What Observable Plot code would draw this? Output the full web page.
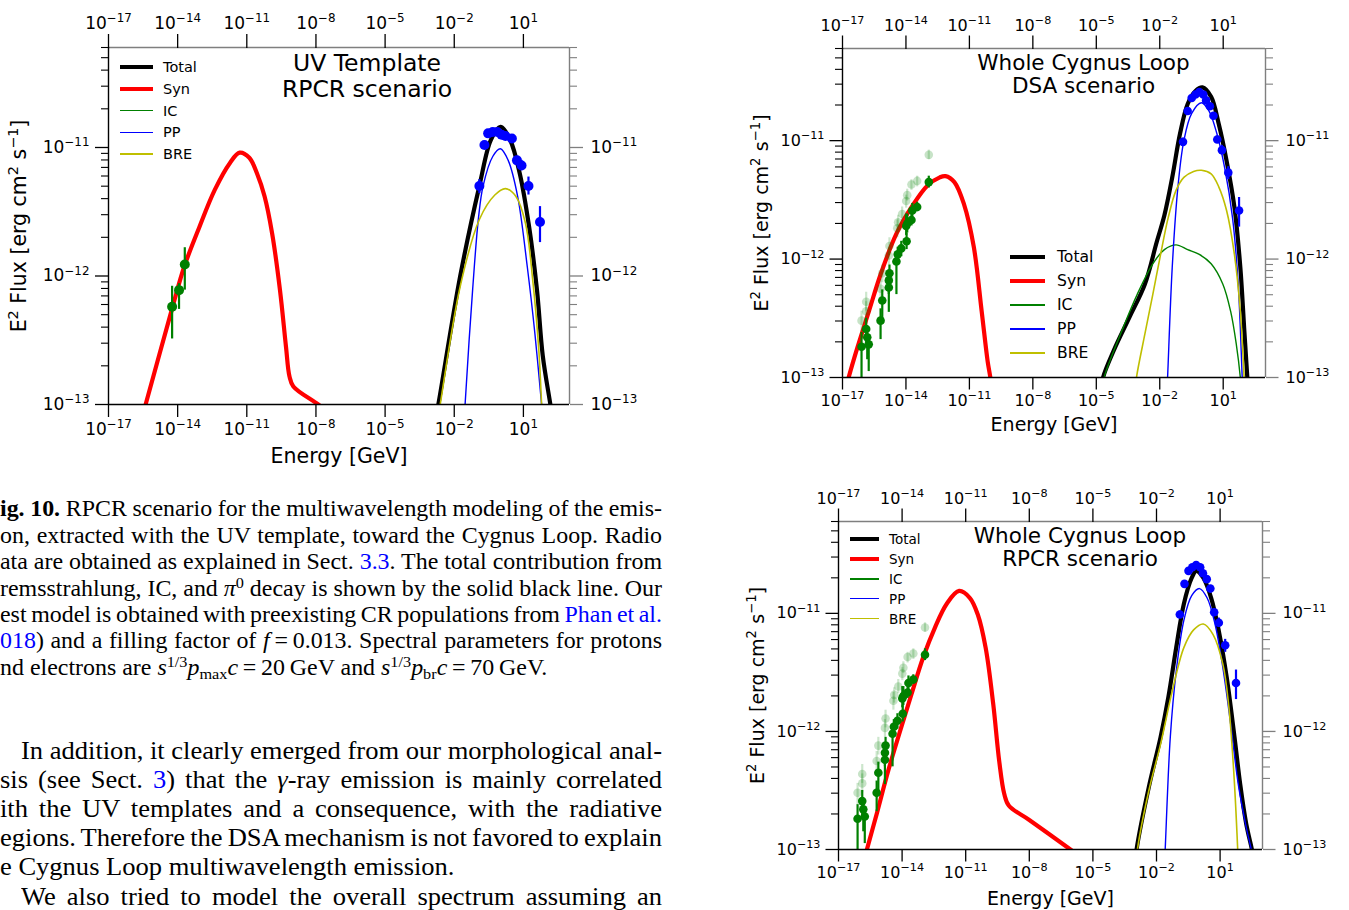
<!DOCTYPE html>
<html><head><meta charset="utf-8">
<script src="https://cdn.jsdelivr.net/npm/d3@7"></script>
<script src="https://cdn.jsdelivr.net/npm/@observablehq/plot@0.6"></script>
<style>
html,body{margin:0;padding:0;background:#fff;}
#page{position:relative;width:1349px;height:910px;overflow:hidden;background:#fff;}
.panel{position:absolute;}
.leg{position:absolute;font-family:"DejaVu Sans";color:#000;white-space:nowrap;}
.tl{position:absolute;font-family:"Liberation Serif","Times New Roman",serif;color:#000;line-height:1;white-space:normal;transform-origin:0 0;}
.just{text-align:justify;text-align-last:justify;word-spacing:-2px;}
.ln{color:#0000ff;}
.tl sup{font-size:0.68em;vertical-align:0.5em;line-height:0;}
.tl sub{font-size:0.68em;vertical-align:-0.28em;line-height:0;}
</style></head>
<body><div id="page"></div>
<script>
// ---------- scales ----------
const X_DOMAIN = [1e-17, 1e3];
const Y_DOMAIN = [1e-13, 6e-11];
const xTickExps = [-17, -14, -11, -8, -5, -2, 1];
const yTickExps = [-13, -12, -11];
const minorMantissas = [2, 3, 4, 5, 6, 7, 8, 9];

// ---------- series names / colours ----------
const seriesNames = ["Total", "Syn", "IC", "PP", "BRE"];
const seriesColors = ["#000000", "#ff0000", "#008000", "#0000ff", "#bfbf00"];
const seriesWidths = [4.2, 4.2, 1.4, 1.4, 1.6];

// ---------- data: [log10 E (GeV), log10 E²Flux] ----------
// Panel 1 : UV Template, RPCR scenario
const uvTotal = [[-2.8,-13.1],[-2.69,-13.0],[-1.74,-12.0],[-0.91,-11.3],[-0.41,-10.94],[0.0,-10.84],[0.42,-10.94],[0.84,-11.2],[1.25,-11.62],[1.59,-12.11],[1.84,-12.62],[2.17,-13.0],[2.25,-13.1]];
const uvSyn = [[-15.55,-13.1],[-15.39,-13.0],[-14.22,-12.24],[-13.72,-11.93],[-13.06,-11.62],[-12.39,-11.33],[-11.73,-11.12],[-11.31,-11.04],[-10.89,-11.08],[-10.56,-11.2],[-10.23,-11.38],[-9.9,-11.67],[-9.56,-12.11],[-9.3,-12.55],[-9.15,-12.78],[-8.98,-12.86],[-7.9,-13.0],[-7.5,-13.06]];
const uvPP = [[-1.58,-13.2],[-1.53,-13.0],[-1.2,-12.1],[-0.95,-11.55],[-0.75,-11.30],[-0.33,-11.07],[0.0,-11.01],[0.34,-11.10],[0.75,-11.38],[1.17,-11.93],[1.5,-12.45],[1.79,-13.0],[1.85,-13.1]];
const uvBRE = [[-2.7,-13.1],[-2.61,-13.0],[-1.74,-12.08],[-0.91,-11.56],[-0.24,-11.37],[0.22,-11.32],[0.67,-11.38],[1.09,-11.59],[1.42,-12.06],[1.67,-12.58],[1.79,-13.0],[1.82,-13.1]];
// data points: [logE, logF, logF low, logF high]
const uvFermi = [[-0.91,-11.30,-11.36,-11.25],[-0.69,-10.98,-11.01,-10.95],[-0.53,-10.89,-10.91,-10.87],[-0.33,-10.88,-10.90,-10.86],[-0.13,-10.88,-10.90,-10.86],[0.05,-10.90,-10.92,-10.88],[0.22,-10.91,-10.93,-10.89],[0.50,-10.93,-10.95,-10.91],[0.72,-11.10,-11.13,-11.07],[0.92,-11.14,-11.18,-11.10],[1.22,-11.30,-11.37,-11.23],[1.72,-11.58,-11.74,-11.46]];
const uvRadio = [[-14.24,-12.24,-12.49,-12.08],[-13.94,-12.11,-12.26,-12.06],[-13.69,-11.91,-12.11,-11.78]];

// Panel 2 : Whole Cygnus Loop, DSA scenario
const dsaTotal = [[-4.75,-13.1],[-4.68,-13.0],[-4.17,-12.77],[-3.43,-12.49],[-2.70,-12.21],[-2.15,-11.86],[-1.78,-11.63],[-1.41,-11.31],[-1.04,-10.94],[-0.68,-10.69],[-0.31,-10.58],[0.02,-10.55],[0.43,-10.63],[0.79,-10.86],[1.16,-11.17],[1.53,-11.56],[1.81,-12.07],[1.99,-12.58],[2.14,-13.0],[2.18,-13.1]];
const dsaSyn = [[-16.9,-13.13],[-16.71,-13.0],[-16.30,-12.75],[-15.75,-12.44],[-15.2,-12.13],[-14.46,-11.79],[-13.73,-11.56],[-12.99,-11.38],[-12.4,-11.31],[-12.13,-11.30],[-11.71,-11.35],[-11.25,-11.54],[-10.79,-11.90],[-10.42,-12.44],[-10.14,-12.86],[-10.01,-13.0],[-9.95,-13.1]];
const dsaIC = [[-4.7,-13.1],[-4.63,-13.0],[-3.80,-12.61],[-3.07,-12.30],[-2.33,-12.04],[-1.78,-11.92],[-1.23,-11.88],[-0.68,-11.92],[-0.13,-11.96],[0.43,-12.04],[0.98,-12.21],[1.35,-12.44],[1.62,-12.72],[1.81,-13.0],[1.85,-13.1]];
const dsaPP = [[-1.66,-13.1],[-1.63,-13.0],[-1.41,-12.07],[-1.14,-11.39],[-0.86,-11.0],[-0.49,-10.77],[-0.03,-10.68],[0.33,-10.75],[0.70,-10.94],[1.07,-11.23],[1.44,-11.65],[1.71,-12.21],[1.90,-13.0],[1.93,-13.1]];
const dsaBRE = [[-3.15,-13.1],[-3.10,-13.0],[-2.70,-12.63],[-2.33,-12.30],[-1.96,-11.96],[-1.60,-11.65],[-1.23,-11.42],[-0.86,-11.31],[-0.40,-11.26],[-0.03,-11.25],[0.43,-11.28],[0.79,-11.39],[1.16,-11.59],[1.53,-11.96],[1.81,-12.44],[1.99,-13.0],[2.02,-13.1]];

// Panel 3 : Whole Cygnus Loop, RPCR scenario
const rpcrTotal = [[-3.0,-13.1],[-2.94,-13.0],[-2.36,-12.47],[-1.81,-12.05],[-1.44,-11.71],[-1.07,-11.29],[-0.71,-10.92],[-0.34,-10.70],[-0.12,-10.64],[0.21,-10.70],[0.58,-10.87],[0.94,-11.15],[1.31,-11.54],[1.68,-12.05],[1.95,-12.45],[2.23,-12.78],[2.50,-13.0],[2.55,-13.05]];
const rpcrSyn = [[-15.8,-13.1],[-15.66,-13.0],[-15.20,-12.70],[-14.65,-12.33],[-14.10,-12.0],[-13.55,-11.68],[-13.0,-11.37],[-12.45,-11.12],[-11.90,-10.92],[-11.31,-10.81],[-10.80,-10.87],[-10.43,-11.01],[-10.06,-11.29],[-9.70,-11.77],[-9.42,-12.25],[-9.18,-12.53],[-8.96,-12.63],[-8.0,-12.75],[-6.06,-13.0],[-5.6,-13.06]];
const rpcrPP = [[-1.62,-13.1],[-1.59,-13.0],[-1.35,-12.05],[-1.07,-11.49],[-0.71,-11.06],[-0.34,-10.85],[0.03,-10.79],[0.39,-10.87],[0.76,-11.09],[1.13,-11.46],[1.50,-11.94],[1.86,-12.45],[2.23,-12.81],[2.47,-13.0],[2.52,-13.05]];
const rpcrBRE = [[-2.95,-13.1],[-2.9,-13.0],[-2.36,-12.50],[-1.81,-12.11],[-1.26,-11.66],[-0.71,-11.29],[-0.25,-11.14],[0.21,-11.09],[0.67,-11.18],[1.13,-11.43],[1.40,-11.77],[1.64,-12.33],[1.83,-13.0],[1.85,-13.1]];

// Whole Cygnus Loop data (panels 2 and 3)
const wholeFermi = [[-0.90,-11.01,-11.04,-10.98],[-0.68,-10.75,-10.77,-10.73],[-0.49,-10.64,-10.66,-10.62],[-0.31,-10.61,-10.63,-10.59],[-0.13,-10.59,-10.61,-10.57],[0.06,-10.61,-10.63,-10.59],[0.19,-10.66,-10.68,-10.64],[0.37,-10.71,-10.73,-10.69],[0.54,-10.79,-10.81,-10.77],[0.72,-10.99,-11.02,-10.96],[0.94,-11.08,-11.12,-11.04],[1.24,-11.27,-11.33,-11.22],[1.75,-11.59,-11.73,-11.48]];
const wholeRadio = [[-16.10,-12.74,-13.2,-12.62],[-15.88,-12.59,-12.75,-12.50],[-15.83,-12.66,-12.85,-12.58],[-15.76,-12.72,-12.95,-12.65],[-15.20,-12.52,-12.68,-12.42],[-15.12,-12.35,-12.55,-12.26],[-14.81,-12.24,-12.45,-12.15],[-14.81,-12.18,-12.30,-12.10],[-14.78,-12.12,-12.25,-12.05],[-14.45,-12.02,-12.30,-11.95],[-14.39,-11.96,-12.05,-11.90],[-14.22,-11.91,-11.98,-11.85],[-13.97,-11.85,-11.92,-11.78],[-13.99,-11.72,-11.80,-11.62],[-13.94,-11.70,-11.78,-11.62],[-13.74,-11.67,-11.72,-11.60],[-13.70,-11.59,-11.65,-11.53],[-13.47,-11.56,-11.60,-11.52],[-12.92,-11.35,-11.40,-11.30]];
const wholeRadioFaint = [[-16.10,-12.52,-12.62,-12.44],[-15.88,-12.44,-12.52,-12.36],[-15.88,-12.36,-12.44,-12.28],[-15.20,-12.25,-12.34,-12.17],[-15.12,-12.12,-12.20,-12.05],[-14.81,-11.97,-12.05,-11.90],[-14.78,-11.89,-11.97,-11.82],[-14.41,-11.74,-11.82,-11.67],[-14.37,-11.69,-11.76,-11.63],[-14.18,-11.62,-11.68,-11.56],[-13.99,-11.51,-11.57,-11.46],[-13.94,-11.46,-11.51,-11.41],[-13.74,-11.37,-11.42,-11.33],[-13.47,-11.34,-11.39,-11.30],[-12.92,-11.12,-11.16,-11.08]];

// ---------- text ----------
const xLabel = "Energy [GeV]";
const yLabel = "E² Flux [erg cm² s⁻¹]";
const captionLines = [
  '<b>ig. 10.</b> RPCR scenario for the multiwavelength modeling of the emis-',
  'on, extracted with the UV template, toward the Cygnus Loop. Radio',
  'ata are obtained as explained in Sect. <span class="ln">3.3</span>. The total contribution from',
  'remsstrahlung, IC, and <i>π</i><sup>0</sup> decay is shown by the solid black line. Our',
  'est model is obtained with preexisting CR populations from <span class="ln">Phan et al.</span>',
  '<span class="ln">018</span>) and a filling factor of <i>f</i>&#8201;=&#8201;0.013. Spectral parameters for protons',
  'nd electrons are <i>s</i><sup>1/3</sup><i>p</i><sub>max</sub><i>c</i>&#8201;=&#8201;20&#8201;GeV and <i>s</i><sup>1/3</sup><i>p</i><sub>br</sub><i>c</i>&#8201;=&#8201;70&#8201;GeV.'
];
const bodyLines = [
  'In addition, it clearly emerged from our morphological anal-',
  'sis (see Sect. <span class="ln">3</span>) that the <i>γ</i>-ray emission is mainly correlated',
  'ith the UV templates and a consequence, with the radiative',
  'egions. Therefore the DSA mechanism is not favored to explain',
  'e Cygnus Loop multiwavelength emission.',
  'We also tried to model the overall spectrum assuming an'
];

// ---------- helpers ----------
const SUP = {"-":"⁻","0":"⁰","1":"¹","2":"²","3":"³","4":"⁴","5":"⁵","6":"⁶","7":"⁷","8":"⁸","9":"⁹"};
const UNSUP = {"⁻":"−","⁰":"0","¹":"1","²":"2","³":"3","⁴":"4","⁵":"5","⁶":"6","⁷":"7","⁸":"8","⁹":"9"};
const fmtPow = d => "10" + String(Math.round(Math.log10(d))).split("").map(c => SUP[c]).join("");
const blank = () => "";
const xTicks = xTickExps.map(e => 10 ** e);
const yTicks = yTickExps.map(e => 10 ** e);
const yMinor = yTickExps.flatMap(e => minorMantissas.map(m => m * 10 ** e)).filter(v => v <= Y_DOMAIN[1] * 1.0001);
const curveRows = arr => arr.map(([e, f]) => ({E: 10 ** e, F: 10 ** f}));
const pointRows = arr => arr.map(([e, f, lo, hi]) => ({E: 10 ** e, F: 10 ** f, lo: 10 ** lo, hi: 10 ** hi}));
const GRAY = "#7f7f7f";
const GREEN = "#008000";
const BLUE = "#0000ff";
const SVGNS = "http://www.w3.org/2000/svg";

// turn unicode superscript runs of a text element into raised tspans (mathtext look)
function raiseSuperscripts(svg) {
  svg.querySelectorAll("text").forEach(t => {
    if (t.querySelector("tspan")) return;
    const s = t.textContent;
    if (!/[⁻⁰¹²³⁴⁵⁶⁷⁸⁹]/.test(s)) return;
    const fs = parseFloat(getComputedStyle(t).fontSize) || 16;
    const runs = [];
    for (const ch of s) {
      const sup = ch in UNSUP;
      const c = sup ? UNSUP[ch] : ch;
      if (runs.length && runs[runs.length - 1].sup === sup) runs[runs.length - 1].str += c;
      else runs.push({sup, str: c});
    }
    t.textContent = "";
    const shift = 0.4 * fs;
    let raised = false;
    runs.forEach(r => {
      const ts = document.createElementNS(SVGNS, "tspan");
      ts.textContent = r.str;
      if (r.sup) { ts.setAttribute("font-size", (0.7 * fs).toFixed(2)); if (!raised) { ts.setAttribute("dy", (-shift).toFixed(2)); raised = true; } }
      else if (raised) { ts.setAttribute("dy", shift.toFixed(2)); raised = false; }
      t.appendChild(ts);
    });
  });
}

const panels = [
  {left: 0, top: 0, width: 660, height: 475, mL: 108, mR: 91, mT: 47, mB: 71,
   tickFs: 17, tickSize: 13, minorSize: 7, pad: 5, rightPad: 21, labelFs: 20.5, xLabelDy: 52, yLabelDx: -89,
   title: "UV Template\nRPCR scenario", titleFs: 23.5, titleDx: 28, titleDy: 5, titleLH: 1.11,
   curves: [uvTotal, uvSyn, null, uvPP, uvBRE], fermi: uvFermi, radio: uvRadio, faint: null, r: 5,
   legend: {x0: 120, x1: 152.6, tx: 163, ys: [67.3, 89, 110.7, 132.3, 154], fs: 14.5}},
  {left: 740, top: 0, width: 609, height: 445, mL: 102, mR: 84, mT: 48, mB: 68,
   tickFs: 16, tickSize: 12.5, minorSize: 7, pad: 4.5, rightPad: 20, labelFs: 19, xLabelDy: 47, yLabelDx: -81,
   title: "Whole Cygnus Loop\nDSA scenario", titleFs: 21.5, titleDx: 29.5, titleDy: 5, titleLH: 1.08,
   curves: [dsaTotal, dsaSyn, dsaIC, dsaPP, dsaBRE], fermi: wholeFermi, radio: wholeRadio, faint: wholeRadioFaint, r: 4.3,
   legend: {x0: 1009.6, x1: 1044.6, tx: 1057, ys: [257.3, 281, 305, 329, 353], fs: 15.6}},
  {left: 740, top: 470, width: 609, height: 440, mL: 98, mR: 87, mT: 51, mB: 61,
   tickFs: 16, tickSize: 12.5, minorSize: 7, pad: 4.5, rightPad: 20, labelFs: 19, xLabelDy: 49, yLabelDx: -80.5,
   title: "Whole Cygnus Loop\nRPCR scenario", titleFs: 21.5, titleDx: 29.5, titleDy: 4.5, titleLH: 1.1,
   curves: [rpcrTotal, rpcrSyn, null, rpcrPP, rpcrBRE], fermi: wholeFermi, radio: wholeRadio, faint: wholeRadioFaint, r: 4.3,
   legend: {x0: 849.7, x1: 879.3, tx: 889, ys: [539, 559.3, 579, 598.7, 618.7], fs: 13.5}}
];

const page = document.getElementById("page");

for (const p of panels) {
  const marks = [];
  marks.push(Plot.ruleY([Y_DOMAIN[1]], {stroke: GRAY, strokeWidth: 1.4}));
  marks.push(Plot.ruleX([X_DOMAIN[1]], {stroke: GRAY, strokeWidth: 1.4}));
  p.curves.forEach((c, i) => {
    if (!c) return;
    marks.push(Plot.line(curveRows(c), {x: "E", y: "F", stroke: seriesColors[i], strokeWidth: seriesWidths[i], curve: "catmull-rom", clip: true}));
  });
  if (p.faint) {
    const fr = pointRows(p.faint);
    marks.push(Plot.ruleX(fr, {x: "E", y1: "lo", y2: "hi", stroke: GREEN, strokeOpacity: 0.2, strokeWidth: 2.2, clip: true}));
    marks.push(Plot.dot(fr, {x: "E", y: "F", r: p.r, fill: GREEN, fillOpacity: 0.22}));
  }
  const rr = pointRows(p.radio);
  marks.push(Plot.ruleX(rr, {x: "E", y1: "lo", y2: "hi", stroke: GREEN, strokeWidth: 2.2, clip: true}));
  marks.push(Plot.dot(rr, {x: "E", y: "F", r: p.r, fill: GREEN}));
  const fr2 = pointRows(p.fermi);
  marks.push(Plot.ruleX(fr2, {x: "E", y1: "lo", y2: "hi", stroke: BLUE, strokeWidth: 2.2, clip: true}));
  marks.push(Plot.dot(fr2, {x: "E", y: "F", r: p.r, fill: BLUE}));
  marks.push(Plot.ruleY([Y_DOMAIN[0]], {stroke: "black", strokeWidth: 1.4}));
  marks.push(Plot.ruleX([X_DOMAIN[0]], {stroke: "black", strokeWidth: 1.4}));
  // axes
  marks.push(Plot.axisX(xTicks, {anchor: "bottom", tickSize: p.tickSize, tickPadding: p.pad, tickFormat: fmtPow, fontSize: p.tickFs, label: null, strokeWidth: 1.3}));
  marks.push(Plot.axisX(xTicks, {anchor: "top", tickSize: p.tickSize + 1, tickPadding: p.pad, tickFormat: fmtPow, fontSize: p.tickFs, label: null, strokeWidth: 1.3}));
  marks.push(Plot.axisY(yTicks, {anchor: "left", tickSize: p.tickSize, tickPadding: p.pad + 1, tickFormat: fmtPow, fontSize: p.tickFs, label: null, strokeWidth: 1.3}));
  marks.push(Plot.axisY(yMinor, {anchor: "left", tickSize: p.minorSize, tickFormat: blank, label: null, strokeWidth: 1.1}));
  marks.push(Plot.axisY(yTicks, {anchor: "right", tickSize: p.tickSize, stroke: GRAY, tickFormat: blank, label: null, strokeWidth: 1.3}));
  marks.push(Plot.axisY(yMinor, {anchor: "right", tickSize: p.minorSize, stroke: GRAY, tickFormat: blank, label: null, strokeWidth: 1.1}));
  marks.push(Plot.axisY(yTicks, {anchor: "right", tickSize: 0, tickPadding: p.rightPad, tickFormat: fmtPow, fontSize: p.tickFs, label: null}));
  // labels and title
  marks.push(Plot.text([xLabel], {text: d => d, frameAnchor: "bottom", dy: p.xLabelDy, lineAnchor: "middle", fontSize: p.labelFs}));
  marks.push(Plot.text([yLabel], {text: d => d, frameAnchor: "left", dx: p.yLabelDx, rotate: -90, textAnchor: "middle", lineAnchor: "middle", fontSize: p.labelFs}));
  marks.push(Plot.text([p.title], {text: d => d, frameAnchor: "top", dx: p.titleDx, dy: p.titleDy, lineAnchor: "top", fontSize: p.titleFs, lineHeight: p.titleLH}));

  const svg = Plot.plot({
    width: p.width, height: p.height,
    marginLeft: p.mL, marginRight: p.mR, marginTop: p.mT, marginBottom: p.mB,
    x: {type: "log", domain: X_DOMAIN},
    y: {type: "log", domain: Y_DOMAIN},
    style: {fontFamily: "DejaVu Sans", fontSize: "16px", color: "black", background: "transparent", overflow: "visible"},
    marks
  });
  const holder = document.createElement("div");
  holder.className = "panel";
  holder.style.left = p.left + "px";
  holder.style.top = p.top + "px";
  holder.appendChild(svg);
  page.appendChild(holder);
  raiseSuperscripts(svg);

  // legend overlay
  const L = p.legend;
  seriesNames.forEach((name, i) => {
    const ln = document.createElement("div");
    ln.style.cssText = `position:absolute;left:${L.x0}px;top:${L.ys[i] - seriesWidths[i] / 2}px;width:${L.x1 - L.x0}px;height:${seriesWidths[i]}px;background:${seriesColors[i]};`;
    page.appendChild(ln);
    const tx = document.createElement("div");
    tx.className = "leg";
    tx.style.cssText += `left:${L.tx}px;top:${L.ys[i] - 10}px;height:20px;line-height:20px;font-size:${L.fs}px;`;
    tx.textContent = name;
    page.appendChild(tx);
  });
}

// caption and body text
const SX = 1.04;
const capFs = 23, capLH = 26.4, capBase = 516.7;
captionLines.forEach((html, i) => {
  const d = document.createElement("div");
  d.className = "tl" + (i < captionLines.length - 1 ? " just" : "");
  d.style.cssText += `left:0px;width:${662 / SX}px;top:${capBase + i * capLH - 0.84 * capFs}px;font-size:${capFs}px;transform:scaleX(${SX});`;
  d.innerHTML = html;
  page.appendChild(d);
});
const bodyFs = 25.5, bodyLH = 29.2, bodyBase = 759;
bodyLines.forEach((html, i) => {
  const d = document.createElement("div");
  const indent = (i === 0 || i === 5) ? 21 : 0;
  d.className = "tl" + (i !== 4 ? " just" : "");
  d.style.cssText += `left:${indent}px;width:${(662 - indent) / SX}px;top:${bodyBase + i * bodyLH - 0.84 * bodyFs}px;font-size:${bodyFs}px;transform:scaleX(${SX});`;
  d.innerHTML = html;
  page.appendChild(d);
});
</script>
</body></html>
